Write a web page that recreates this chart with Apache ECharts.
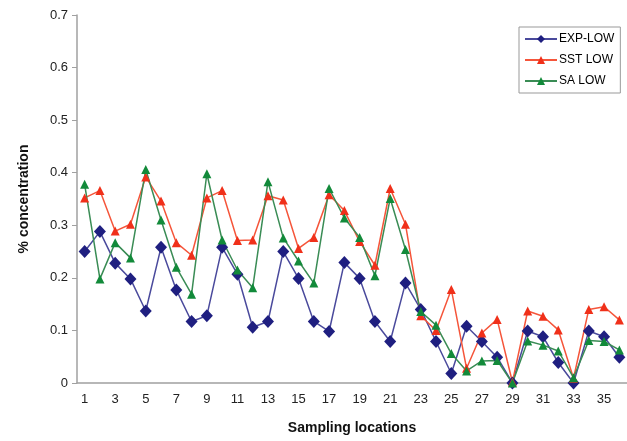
<!DOCTYPE html>
<html lang="en">
<head>
    <meta charset="UTF-8">
    <title>Sampling locations</title>
    <script src="https://cdn.jsdelivr.net/npm/echarts@6/dist/echarts.min.js"></script>
    <style>
        html, body { margin: 0; padding: 0; background: #fff; }
    </style>
</head>
<body>
    <div id="chart" style="width:627px;height:441px;"></div>
    <script type="text/javascript">

        // sampling locations 1..36
        var locations = [];
        for (var i = 1; i <= 36; i++) locations.push(String(i));

        var expLow = [0.25, 0.288, 0.228, 0.198, 0.137, 0.258, 0.177, 0.117, 0.128, 0.258,
                      0.207, 0.106, 0.117, 0.25, 0.199, 0.117, 0.098, 0.229, 0.199, 0.117,
                      0.079, 0.19, 0.14, 0.079, 0.018, 0.108, 0.079, 0.049, 0, 0.099,
                      0.088, 0.039, 0, 0.099, 0.088, 0.049];
        var sstLow = [0.352, 0.366, 0.289, 0.302, 0.392, 0.346, 0.267, 0.243, 0.352, 0.366,
                      0.271, 0.272, 0.356, 0.348, 0.256, 0.277, 0.358, 0.328, 0.269, 0.224,
                      0.37, 0.302, 0.128, 0.1, 0.178, 0.028, 0.095, 0.121, 0.002, 0.137,
                      0.127, 0.101, 0.009, 0.14, 0.145, 0.12];
        var saLow = [0.378, 0.198, 0.267, 0.238, 0.406, 0.31, 0.22, 0.169, 0.398, 0.272,
                     0.215, 0.181, 0.383, 0.276, 0.232, 0.19, 0.37, 0.314, 0.277, 0.204,
                     0.351, 0.254, 0.136, 0.11, 0.056, 0.023, 0.042, 0.043, 0, 0.08,
                     0.072, 0.061, 0.01, 0.081, 0.079, 0.063];
        var yTicks = [0, 0.1, 0.2, 0.3, 0.4, 0.5, 0.6, 0.7];

        var chart = echarts.init(document.getElementById('chart'));
        var axisGrey = '#a0a0a0';

        chart.setOption({
            animation: false,
            textStyle: { fontFamily: 'Liberation Sans, Arial, sans-serif' },
            grid: { left: 77, right: 0, top: 15, bottom: 58 },
            legend: {
                orient: 'vertical',
                left: 519,
                top: 27,
                padding: [6, 6, 6, 5],
                borderColor: '#999',
                borderWidth: 1,
                itemWidth: 32,
                itemHeight: 10,
                itemGap: 9,
                textStyle: { fontSize: 12, color: '#000', padding: [0, 0, 0, -3] },
                data: ['EXP-LOW', 'SST LOW', 'SA LOW']
            },
            xAxis: {
                type: 'category',
                data: locations,
                name: 'Sampling locations',
                nameLocation: 'middle',
                nameGap: 38,
                nameTextStyle: { fontSize: 14, fontWeight: 'bold', color: '#111' },
                axisLine: { lineStyle: { color: axisGrey, width: 1.5 } },
                axisTick: { interval: 0, length: 5, lineStyle: { color: axisGrey } },
                axisLabel: { interval: 1, fontSize: 13, color: '#222', margin: 10 },
                splitLine: { show: false }
            },
            yAxis: {
                type: 'value',
                min: yTicks[0],
                max: yTicks[yTicks.length - 1],
                interval: 0.1,
                name: '% concentration',
                nameLocation: 'middle',
                nameGap: 46,
                nameTextStyle: { fontSize: 14, fontWeight: 'bold', color: '#111' },
                axisLine: { show: true, lineStyle: { color: axisGrey, width: 1.5 } },
                axisTick: { show: true, length: 5, lineStyle: { color: axisGrey } },
                axisLabel: { fontSize: 13, color: '#222', margin: 9 },
                splitLine: { show: false }
            },
            series: [{
                name: 'EXP-LOW',
                type: 'line',
                data: expLow,
                showAllSymbol: true,
                symbol: 'diamond',
                symbolSize: [12, 13],
                itemStyle: { color: '#1f1f80' },
                lineStyle: { color: '#4a4a9c', width: 1.5 }
            }, {
                name: 'SST LOW',
                type: 'line',
                data: sstLow,
                showAllSymbol: true,
                symbol: 'triangle',
                symbolSize: 9,
                itemStyle: { color: '#f0301a' },
                lineStyle: { color: '#f5553a', width: 1.5 }
            }, {
                name: 'SA LOW',
                type: 'line',
                data: saLow,
                showAllSymbol: true,
                symbol: 'triangle',
                symbolSize: 9,
                itemStyle: { color: '#128a3a' },
                lineStyle: { color: '#3a8c55', width: 1.5 }
            }]
        });

    </script>
</body>
</html>
